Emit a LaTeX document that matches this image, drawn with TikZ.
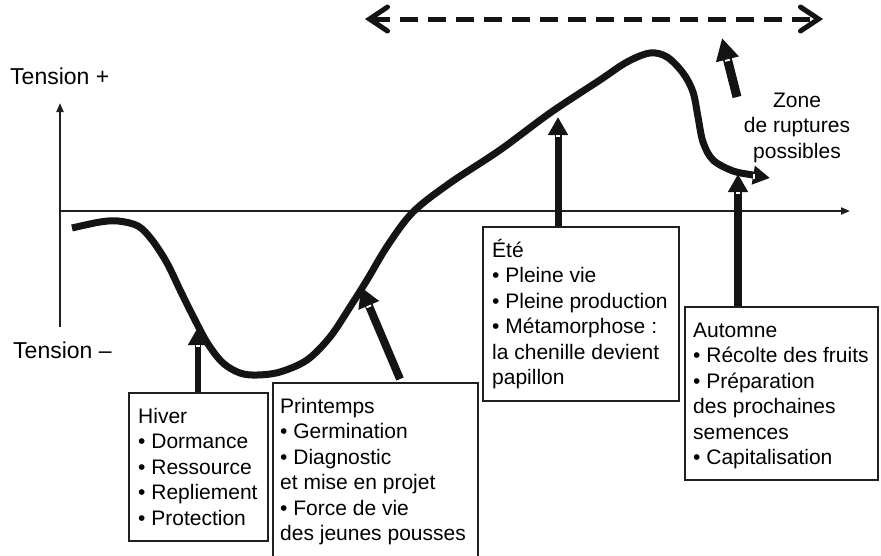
\documentclass[tikz,border=0pt]{standalone}
\usepackage{fontspec}
\setmainfont{Liberation Sans}
\usetikzlibrary{arrows.meta}
\begin{document}
\begin{tikzpicture}[x=1pt,y=-1pt,
  axisline/.style={line width=2pt, draw=black!88, -{Triangle[length=9pt,width=7pt]}},
  boxframe/.style={draw=black!88, line width=2pt, inner sep=0pt, anchor=north west},
  txt/.style={inner sep=0pt, anchor=north west, align=left, font=\fontsize{21}{25.5}\selectfont},
  axlabel/.style={inner sep=0pt, anchor=base west, font=\fontsize{23}{27}\selectfont},
  bigarrow/.style={draw=black!92, line width=7pt, -{Triangle[length=18pt,width=19pt]}},
  curveline/.style={draw=black!92, line width=7pt, line join=round},
  notch/.style={draw=white, line width=1.8pt},
  dasharrow/.style={draw=black!92, line width=5pt, dash pattern=on 18pt off 10pt,
     {Straight Barb[length=18pt,width=24pt,line cap=round]}-{Straight Barb[length=18pt,width=24pt,line cap=round]}}
]
\useasboundingbox (0,0) rectangle (881,555);
\clip (0,0) rectangle (881,555);

% axes
\coordinate (origin) at (60,211);
\coordinate (ybot) at (60,327);
\coordinate (ytop) at (60,103);
\coordinate (xend) at (850,211);
\draw[axisline] (ybot) -- (ytop);
\draw[axisline] (origin) -- (xend);

% axis labels
\node[axlabel] (tplus) at (10,84) {Tension +};
\node[axlabel] (tminus) at (13,358) {Tension –};

% main curve
\draw[curveline, -{Triangle[length=17pt,width=18pt]}] plot[smooth, tension=0.55] coordinates {
 (72,228) (100,222) (118,221) (138,226) (152,240) (167,263) (181,292) (195,320) (208,344)
 (223,363) (240,373) (257,375) (280,372) (307,360) (330,337) (350,307) (367,280)
 (388,245) (413,212) (450,183) (500,150) (550,113) (600,80) (627,62) (650,53)
 (667,57) (683,73) (693,92) (698,117) (703,142) (713,160) (733,171) (753,175) (770,178)};
\coordinate (cn1) at (754,174);
\coordinate (cn2) at (754,178.5);
\draw[notch] (cn1) -- (cn2);

% dashed double arrow
\coordinate (dl) at (365,19);
\coordinate (dr) at (823,19);
\draw[dasharrow] (dl) -- (dr);

% boxes
\node[boxframe, minimum width=139pt, minimum height=148pt] (hiverbox) at (128,392) {};
\node[boxframe, minimum width=205pt, minimum height=190pt] (printbox) at (272,382) {};
\node[boxframe, minimum width=196pt, minimum height=174pt] (etebox) at (482,226) {};
\node[boxframe, minimum width=193pt, minimum height=173pt] (autbox) at (684,306) {};

% box texts
\node[txt] (hivertxt) at (138,403) {\rule{0pt}{20pt}Hiver\\• Dormance\\• Ressource\\• Repliement\\• Protection};
\node[txt] (printtxt) at (280,393) {\rule{0pt}{20pt}Printemps\\• Germination\\• Diagnostic\\et mise en projet\\• Force de vie\\des jeunes pousses};
\node[txt] (etetxt) at (492,237) {\rule{0pt}{20pt}Été\\• Pleine vie\\• Pleine production\\• Métamorphose :\\la chenille devient\\papillon};
\node[txt] (auttxt) at (693,317) {\rule{0pt}{20pt}Automne\\• Récolte des fruits\\• Préparation\\des prochaines\\semences\\• Capitalisation};

% zone label
\node[txt, anchor=north, align=center] (zone) at (797,87) {\rule{0pt}{20pt}Zone\\de ruptures\\possibles};

% arrows from boxes to the curve
\coordinate (hivertip) at (198,327);
\coordinate (printtip) at (361,287);
\coordinate (printstart) at (400,379);
\coordinate (etetip) at (558,117);
\coordinate (auttip) at (738,174);
\coordinate (brkstart) at (737,97);
\coordinate (brktip) at (722,38);

\draw[bigarrow, line width=6pt] (hivertip |- hiverbox.north) -- (hivertip);
\draw[bigarrow, line width=8pt, -{Triangle[length=20pt,width=21pt]}] (printstart) -- (printtip);
\draw[bigarrow] (etetip |- etebox.north) -- (etetip);
\draw[bigarrow, line width=8pt] (auttip |- autbox.north) -- (auttip);
\draw[bigarrow, line width=9pt, -{Triangle[length=22pt,width=22pt]}] (brkstart) -- (brktip);

% small white notches at the base of the heads
\coordinate (hn1) at (196,346); \coordinate (hn2) at (200,346);
\draw[notch] (hn1) -- (hn2);
\coordinate (pn1) at (366.5,307.4); \coordinate (pn2) at (371.1,305.4);
\draw[notch] (pn1) -- (pn2);
\coordinate (en1) at (556,136); \coordinate (en2) at (560,136);
\draw[notch] (en1) -- (en2);
\coordinate (an1) at (736,193); \coordinate (an2) at (740,193);
\draw[notch] (an1) -- (an2);
\coordinate (bn1) at (725,60.9); \coordinate (bn2) at (729.8,59.7);
\draw[notch] (bn1) -- (bn2);
\end{tikzpicture}
\end{document}
